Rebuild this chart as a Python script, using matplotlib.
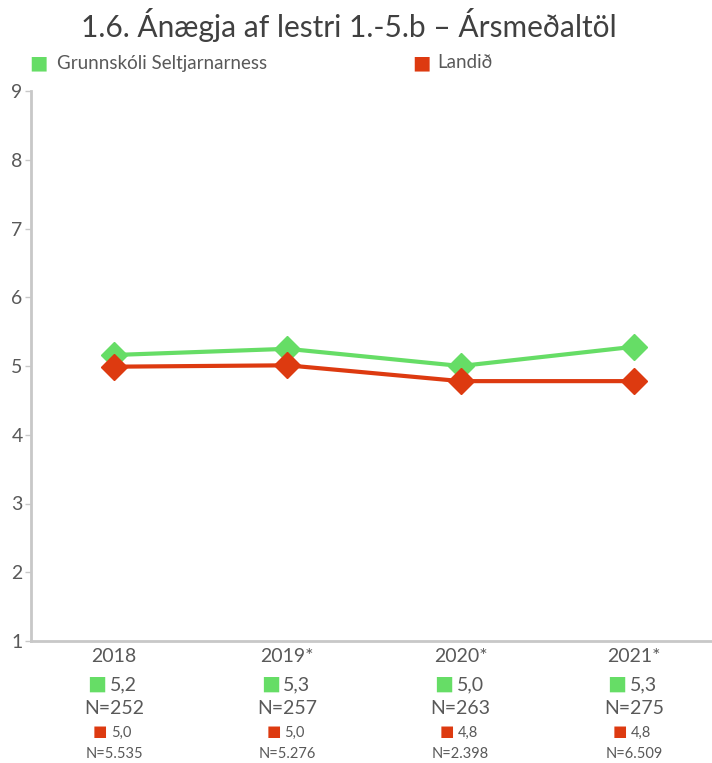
import matplotlib
matplotlib.use("Agg")
import matplotlib.pyplot as plt
import matplotlib.transforms as mtransforms

years = ["2018", "2019*", "2020*", "2021*"]
school = [5.16, 5.25, 5.0, 5.28]
national = [4.99, 5.01, 4.78, 4.78]
school_labels = ["5,2", "5,3", "5,0", "5,3"]
school_n = ["N=252", "N=257", "N=263", "N=275"]
national_labels = ["5,0", "5,0", "4,8", "4,8"]
national_n = ["N=5.535", "N=5.276", "N=2.398", "N=6.509"]
series_names = ["Grunnskóli Seltjarnarness", "Landið"]
title = "1.6. Ánægja af lestri 1.-5.b – Ársmeðaltöl"

GREEN = "#66DD66"
RED = "#DD3A10"
TXT = "#595959"
SPINE = "#c8c8c8"

plt.rcParams['font.family'] = ['Lato', 'DejaVu Sans']

fig = plt.figure(figsize=(7.12, 7.63), dpi=100)
ax = fig.add_axes([31/712, (763-641)/763, (712-31)/712, (641-91)/763])

x = list(range(len(years)))
ax.plot(x, school, color=GREEN, lw=3, marker="D", ms=13, zorder=3)
ax.plot(x, national, color=RED, lw=3, marker="D", ms=13, zorder=3)

ax.set_ylim(1, 9)
ax.set_xlim(-0.479, 3.45)
ax.set_yticks(range(1, 10))
ax.set_xticks([])
for s in ["top", "right"]:
    ax.spines[s].set_visible(False)
for s in ["left", "bottom"]:
    ax.spines[s].set_color(SPINE)
    ax.spines[s].set_linewidth(2)
ax.tick_params(axis="y", colors=SPINE, length=4, width=1, labelcolor=TXT, labelsize=14, pad=2)

trans = mtransforms.blended_transform_factory(ax.transData, ax.transAxes)
px = 0.72  # points per pixel
for i in x:
    ax.annotate(years[i], (i, 0), xycoords=trans, xytext=(0, -16*px), textcoords="offset points",
                ha="center", va="center", fontsize=14, color=TXT)
    ax.annotate("■", (i, 0), xycoords=trans, xytext=(-17*px, -43*px), textcoords="offset points",
                ha="center", va="center", fontsize=14.5, color=GREEN, family="DejaVu Sans")
    ax.annotate(school_labels[i], (i, 0), xycoords=trans, xytext=(-4*px, -44*px), textcoords="offset points",
                ha="left", va="center", fontsize=14, color=TXT)
    ax.annotate(school_n[i], (i, 0), xycoords=trans, xytext=(0, -68*px), textcoords="offset points",
                ha="center", va="center", fontsize=14, color=TXT)
    ax.annotate("■", (i, 0), xycoords=trans, xytext=(-14*px, -91*px), textcoords="offset points",
                ha="center", va="center", fontsize=11, color=RED, family="DejaVu Sans")
    ax.annotate(national_labels[i], (i, 0), xycoords=trans, xytext=(-3*px, -92*px), textcoords="offset points",
                ha="left", va="center", fontsize=10.5, color=TXT)
    ax.annotate(national_n[i], (i, 0), xycoords=trans, xytext=(0, -113*px), textcoords="offset points",
                ha="center", va="center", fontsize=10.5, color=TXT)

fig.text(349/712, 1 - 25/763, title, ha="center", va="center", fontsize=21.5, color="#404040")

# legend
fig.text(38/712, 1 - 63/763, "■", ha="center", va="center", fontsize=14, color=GREEN, family="DejaVu Sans")
fig.text(57/712, 1 - 63/763, series_names[0], ha="left", va="center", fontsize=13.5, color=TXT)
fig.text(421/712, 1 - 63/763, "■", ha="center", va="center", fontsize=14, color=RED, family="DejaVu Sans")
fig.text(437/712, 1 - 63/763, series_names[1], ha="left", va="center", fontsize=13.5, color=TXT)

fig.savefig("out.png", dpi=100)
